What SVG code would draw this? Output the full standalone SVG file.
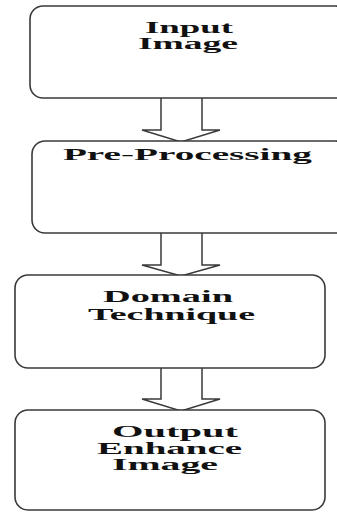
<svg xmlns="http://www.w3.org/2000/svg" width="337" height="513" viewBox="0 0 337 513">
<style>
.box{fill:#fff;stroke:#3a3a3a;stroke-width:1.6}
.arr{fill:#fff;stroke:#3a3a3a;stroke-width:1.5;stroke-linejoin:miter}
.t{font-family:"Liberation Serif","Times New Roman",serif;font-weight:bold;font-size:16px;fill:#111}
</style>
<rect width="337" height="513" fill="#fff"/>
<g id="connectors">
<polygon class="arr" points="161,97 202,97 202,130 220,130 181,142 142,130 161,130"/>
<polygon class="arr" points="161,232 202,232 202,265 220,265 181,276 142,265 161,265"/>
<polygon class="arr" points="161,367 202,367 202,399 220,399 181,411 142,399 161,399"/>
</g>
<g id="input-image">
<rect class="box" x="30" y="6" width="318" height="92" rx="13"/>
<g transform="scale(2.2,1)">
<text class="t" x="65.9" y="33" textLength="40" lengthAdjust="spacingAndGlyphs">Input</text>
<text class="t" x="62.7" y="49" textLength="45.5" lengthAdjust="spacingAndGlyphs">Image</text>
</g>
</g>
<g id="pre-processing">
<rect class="box" x="32" y="141" width="316" height="92" rx="13"/>
<g transform="scale(2.2,1)">
<text class="t" x="28.6" y="160" font-size="17" textLength="113.2" lengthAdjust="spacingAndGlyphs">Pre-Processing</text>
</g>
</g>
<g id="domain-technique">
<rect class="box" x="15" y="275" width="310" height="93" rx="13"/>
<g transform="scale(2.2,1)">
<text class="t" x="46.8" y="302" font-size="18" textLength="59.1" lengthAdjust="spacingAndGlyphs">Domain</text>
<text class="t" x="40" y="320" font-size="18" textLength="75.9" lengthAdjust="spacingAndGlyphs">Technique</text>
</g>
</g>
<g id="output-enhance-image">
<rect class="box" x="15" y="410" width="310" height="100" rx="13"/>
<g transform="scale(2.2,1)">
<text class="t" x="50.9" y="437" font-size="16" textLength="57.3" lengthAdjust="spacingAndGlyphs">Output</text>
<text class="t" x="44.1" y="454" font-size="15" textLength="65.9" lengthAdjust="spacingAndGlyphs">Enhance</text>
<text class="t" x="50.9" y="470" font-size="15" textLength="48.2" lengthAdjust="spacingAndGlyphs">Image</text>
</g>
</g>
</svg>
